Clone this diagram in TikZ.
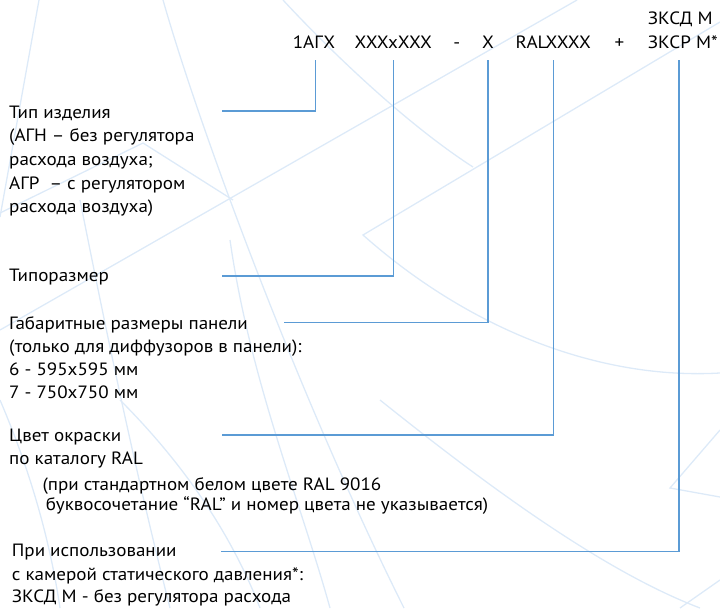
\documentclass[tikz,border=0pt]{standalone}
\usepackage{fontspec}
\setmainfont{PT Sans}[FakeStretch=1.07]
\definecolor{linecol}{HTML}{5B9BD5}
\definecolor{bgcol}{HTML}{DDEAF8}
\begin{document}
\begin{tikzpicture}[x=1pt,y=-1pt,
  txt/.style={anchor=base west, inner sep=0pt, font=\fontsize{17.8}{21}\selectfont},
  code/.style={anchor=base, inner sep=0pt, font=\fontsize{17.8}{21}\selectfont},
  conn/.style={draw=linecol, line width=1.6pt},
  bgline/.style={draw=bgcol, line width=1.3pt}]
\useasboundingbox (0,0) rectangle (720,608);
% faint background wireframe
\draw[bgline] (39,0) -- (0,217);
\draw[bgline] (163,0) .. controls (200,130) and (300,400) .. (404,608);
\draw[bgline] (283,0) .. controls (320,40) and (400,120) .. (473,167);
\draw[bgline] (0,330) -- (577,0);
\draw[bgline] (720,22) -- (363,235) .. controls (470,330) and (600,380) .. (720,373);
\draw[bgline] (720,430) -- (670,488) -- (720,497);
\draw[bgline] (380,400) .. controls (480,480) and (600,570) .. (700,608);
\draw[bgline] (720,580) -- (680,608);
\draw[bgline] (80,200) .. controls (100,300) and (130,450) .. (170,608);
\draw[bgline] (0,400) .. controls (30,470) and (50,540) .. (60,608);
\draw[bgline] (230,240) .. controls (250,380) and (300,500) .. (330,608);
\draw[bgline] (0,213) -- (143,143) -- (233,200);
\draw[bgline] (120,400) .. controls (180,460) and (230,530) .. (260,608);
% code row
\node[code] (t1) at (314,48.3) {1АГХ};
\node[code] (t2) at (393.3,48.3) {XXXxXXX};
\node[code] (tdash) at (456.7,48.3) {-};
\node[code] (t3) at (488,48.3) {X};
\node[code] (t4) at (553.3,48.3) {RALXXXX};
\node[code] (tplus) at (619.5,48.3) {+};
\node[txt] (t5) at (647.7,48.3) {ЗКСР М*};
\node[txt] (t5a) at (647.7,24) {ЗКСД М};
% left descriptions
\node[txt] (a1) at (9,118.3) {Тип изделия};
\node[txt] (a2) at (9,141.7) {(АГН – без регулятора};
\node[txt] (a3) at (9,165.3) {расхода воздуха;};
\node[txt] (a4) at (9,189) {АГР\ \ – с регулятором};
\node[txt] (a5) at (9,212.7) {расхода воздуха)};
\node[txt] (b1) at (9,281.7) {Типоразмер};
\node[txt] (c1) at (9,329.3) {Габаритные размеры панели};
\node[txt] (c2) at (9,352.5) {(только для диффузоров в панели):};
\node[txt] (c3) at (9,375.7) {6 - 595x595 мм};
\node[txt] (c4) at (9,398.5) {7 - 750x750 мм};
\node[txt] (d1) at (9,441.7) {Цвет окраски};
\node[txt] (d2) at (9,464.5) {по каталогу RAL};
\node[txt] (d3) at (42.3,490.5) {(при стандартном белом цвете RAL 9016};
\node[txt] (d4) at (45.7,510.7) {буквосочетание “RAL” и номер цвета не указывается)};
\node[txt] (e1) at (11.7,556.7) {При использовании};
\node[txt] (e2) at (11.7,580) {с камерой статического давления*:};
\node[txt] (e3) at (11.7,602.7) {ЗКСД М - без регулятора расхода};
% connector ends
\coordinate (ea) at (222,110.7);
\coordinate (eb) at (221.7,276);
\coordinate (ec) at (284,322.3);
\coordinate (ed) at (221.7,435);
\coordinate (ee) at (220.7,551.5);
\draw[conn] (315.3,60) |- (ea);
\draw[conn] (t2.base |- 0,60) |- (eb);
\draw[conn] (t3.base |- 0,60) |- (ec);
\draw[conn] (t4.base |- 0,60) |- (ed);
\draw[conn] (679,60) |- (ee);
\end{tikzpicture}
\end{document}
